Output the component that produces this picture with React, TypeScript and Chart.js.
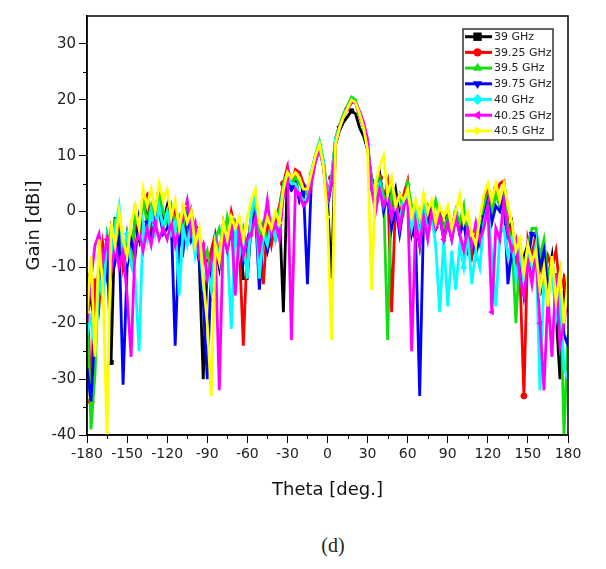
import React, { useEffect, useRef } from "react";
import { Chart, registerables } from "chart.js";

Chart.register(...registerables);

const THETA = [
  -180, -177, -174, -171, -168, -165, -162, -159, -156, -153,
  -150, -147, -144, -141, -138, -135, -132, -129, -126, -123,
  -120, -117, -114, -111, -108, -105, -102, -99, -96, -93,
  -90, -87, -84, -81, -78, -75, -72, -69, -66, -63,
  -60, -57, -54, -51, -48, -45, -42, -39, -36, -33,
  -30, -27, -24, -21, -18, -15, -12, -9, -6, -3,
  0, 3, 6, 9, 12, 15, 18, 21, 24, 27,
  30, 33, 36, 39, 42, 45, 48, 51, 54, 57,
  60, 63, 66, 69, 72, 75, 78, 81, 84, 87,
  90, 93, 96, 99, 102, 105, 108, 111, 114, 117,
  120, 123, 126, 129, 132, 135, 138, 141, 144, 147,
  150, 153, 156, 159, 162, 165, 168, 171, 174, 177,
  180,
];

const GAIN_39_00 = [
  -11, -16, -20, -9, -14, -5, -27, -1, -6, -9,
  -4, -8, -2, -5, 3, -1, -4, 1, 3, -2,
  1, -4, -2, -6, -1, 0, -5, -3, -9, -30,
  -9, -14, -6, -10, -3, -6, -1, -4, -3, -12,
  -12, -2, 1, -6, -3, -7, -4, -2, 0, -18,
  7, 5, 6, 2, 4, 3, 7, 10, 12, 8,
  2, -12, 12, 14.5, 16, 17, 18, 17.5, 15, 13.5,
  11, 6, 4, 7, 2, 5, 1, 4, -1, 2,
  4, -4, -1, -6, 2, -3, 1, -2, 0, -4,
  -1, -3, 0, -4, -1, -5, -8, -4, -3, 1,
  3, 0, 4, 1, 4, -4, -2, -9, -12, -8,
  -6, -11, -5, -15, -9, -12, -8, -18, -30, -13,
  -17,
];

const GAIN_39_25 = [
  -13, -34, -12, -17, -6, -11, -3, -6, -2, -10,
  -6, -9, -2, -4, 2, 3, -3, 0, 2, -3,
  0, -3, 1, -4, -1, -5, 0, -4, -8, -6,
  -11, -7, -4, -8, -2, -5, 0, -3, -6, -24,
  -6, -1, 2, -5, -13, -2, -6, -2, 1, 5,
  8, 5, 7.5, 7, 5, 4, 6, 10, 12, 9,
  3, 6, 13, 15.5, 17, 18.5, 19.5, 19.5, 17, 15,
  12, 5, 3, 6, 2, 5, -18, 2, -2, 3,
  5.5, -3, 0, -4, 1, -3, 1, -2, 0, -3,
  -1, -3, 0, -3, -1, -5, -8, -4, -6, 2,
  4, 1, 3, 5, 5.5, -2, -4, -8, -11, -33,
  -5, -8, -4, -9, -13, -8, -10, -7, -14, -12,
  -18,
];

const GAIN_39_50 = [
  -16, -39, -29, -9, -13, -4, -7, -2, -5, -8,
  -5, -9, -1, -3, 2, -2, 1, -2, 3, 0,
  -2, 1, -3, -1, -5, 1, -3, -6, -4, -9,
  -7, -11, -5, -3, -6, -1, -4, -2, -6, -3,
  -7, -1, 2, -4, -2, -6, -3, -1, 0, 5,
  7, 5, 6, 5, 4, 3, 7, 10, 12.5, 9,
  2, 5, 13, 15.5, 17.5, 19, 20.5, 20, 17.5, 15,
  12, 5, 3, 6, 3, -23, 4, 1, 3, 0,
  5, 1, -3, 0, -2, 1, -1, 2, -1, -3,
  -1, -4, 0, -2, 1, -6, -4, -7, -3, 1,
  3, 0, 3, 1, 4, -3, -5, -20, -7, -11,
  -6, -3, -3, -8, -5, -12, -9, -15, -11, -40,
  -22,
];

const GAIN_39_75 = [
  -28, -34, -21, -13, -8, -12, -4, -9, -5, -31,
  -10, -5, -8, -1, -4, -2, -5, -1, 0, -4,
  -3, -1, -24, -4, -7, -1, -5, -3, -9, -16,
  -30, -10, -5, -9, -4, -7, -3, -6, -4, -9,
  -5, -3, 0, -14, -4, -7, -3, -5, -2, 3,
  6, 4, 5, 2, 4, -13, 6, 9, 11.5, 8,
  1, 5, 12.5, 15, 17, 18.5, 20, 19.5, 17.5, 15,
  12, 4, 2, 5, 0, 3, -3, 1, -4, 1,
  3, -3, -5, -33, 0, -4, 1, -3, -1, -5,
  -2, -5, -1, -4, -2, -7, -5, -8, -4, -1,
  2, -2, 1, 0, 3, -13, -7, -11, -9, -15,
  -9, -4, -4.5, -10, -7, -14, -10, -17, -13, -22,
  -24,
];

const GAIN_40_00 = [
  -22, -19, -25, -12, -16, -5, -9, -3, 1, -7,
  -4, -9, -12, -25, -2, -5, 0, -4, 1, -3,
  0, -4, -2, -15, -3, -6, -2, -8, -5, -13,
  -10, -14, -5, -8, -3, -6, -21, -3, -8, -5,
  -12, 0, 3, -12, -4, -6, -2, -5, -1, 4,
  6, 5, 5, 3, 2, 2.5, 6, 9.5, 12, 9,
  2, 6, 13, 15, 17, 18.5, 20, 19.5, 17.5, 15,
  12, 5, 3, 5, 1, 3, -1, 2, -2, 2,
  3, -3, 0, -5, 1, -4, -1, -6, -18, -5,
  -17, -7, -14, -6, -10, -4, -13, -7, -10, -2,
  1, -8, -17, -4, -3, -8, -5, -12, -7, -13,
  -7, -10, -6, -32, -12, -16, -10, -19, -14, -28,
  -30,
];

const GAIN_40_25 = [
  -20, -12, -6, -4, -9, -5, -11, -6, -10, -7,
  -15, -26, -6, -4, -7, -3, -6, -2, -5, -3,
  -5, -2, -6, -3, -1, 2, -4, -2, -8, -6,
  -12, -9, -6, -32, -4, -7, -2, -15, -3, -8,
  -5, -4, -1, -7, -3, 2, -4, -2, -5, 3,
  7, -23, 4, 3, 1, 2, 5, 9, 11, 8,
  2, 5, 12, 15, 17, 18.5, 19.5, 19.5, 18, 16,
  13, 4, 0, 4, 1, 3, -1, 2, -3, 1,
  2, -25, -2, -6, -1, -5, 0, -3, -1, -5,
  -2, -5, -1, -4, -7, -3, -6, -2, -5, -3,
  1, -18, -3, -5, 2, -4, -7, -5, -12, -15,
  -9, -13, -7, -20, -32, -15, -26, -11, -24, -20,
  -15,
];

const GAIN_40_50 = [
  -18, -8, -26, -5, -14, -40, -2, -6, 0, -5,
  -8, -2, 1, -3, 4, 1, 4, 0, 5, 2,
  4, -1, 2, -3, 1, -2, 0, -6, -3, -12,
  -20, -33, -6, -9, -2, -5, -1, -3, -1, -5,
  -1, 2, 4, -2, -4, -1, -3, 0, -2, 4,
  7, 6, 7, 6, 4, 4, 7, 10, 12, 8,
  -1, -23, 12, 15, 17, 18.5, 20, 19.5, 17.5, 15,
  11, -14, 5, 8, 10, 3, 6, 1, 3, 2,
  4, -1, 2, -1, 3, 0, 2, -2, 1, -1,
  1, -3, 0, 3, -2, 0, -4, -6, -1, 3,
  5, 2, 5, 2, 5, 1, -2, -7, -5, -11,
  -6, -9, -7, -14, -10, -17, -8, -16, -11, -20,
  -12,
];

const SERIES = [GAIN_39_00, GAIN_39_25, GAIN_39_50, GAIN_39_75, GAIN_40_00, GAIN_40_25, GAIN_40_50];
const SERIES_LABELS = ["39 GHz", "39.25 GHz", "39.5 GHz", "39.75 GHz", "40 GHz", "40.25 GHz", "40.5 GHz"];
const SERIES_COLORS = ["#000000", "#FF0000", "#10E010", "#0000FF", "#00FFFF", "#FF00FF", "#FFFF00"];
const SERIES_STYLES = ["rect", "circle", "triangle", "triangle", "rectRot", "triangle", "triangle"];
const SERIES_ROT = [0, 0, 0, 180, 0, 270, 90];

const X_MIN = -180;
const X_MAX = 180;
const X_STEP = 30;
const Y_MIN = -40;
const Y_MAX = 35;
const Y_STEP = 10;

const FONT = "'DejaVu Sans', Arial, sans-serif";

function drawMarker(ctx: CanvasRenderingContext2D, style: string, rot: number, x: number, y: number, r: number) {
  ctx.beginPath();
  if (style === "rect") {
    ctx.rect(x - r, y - r, 2 * r, 2 * r);
  } else if (style === "circle") {
    ctx.arc(x, y, r, 0, Math.PI * 2);
  } else if (style === "rectRot") {
    ctx.moveTo(x, y - r * 1.3);
    ctx.lineTo(x + r * 1.3, y);
    ctx.lineTo(x, y + r * 1.3);
    ctx.lineTo(x - r * 1.3, y);
    ctx.closePath();
  } else {
    const a0 = ((rot - 90) * Math.PI) / 180;
    for (let k = 0; k < 3; k++) {
      const a = a0 + (k * 2 * Math.PI) / 3;
      const px = x + Math.cos(a) * r * 1.25;
      const py = y + Math.sin(a) * r * 1.25;
      if (k === 0) ctx.moveTo(px, py);
      else ctx.lineTo(px, py);
    }
    ctx.closePath();
  }
  ctx.fill();
}

const framePlugin = {
  id: "frameAndTicks",
  afterDraw(chart: any) {
    const { ctx, chartArea } = chart;
    const xs = chart.scales.x;
    const ys = chart.scales.y;
    ctx.save();
    ctx.strokeStyle = "#000";
    ctx.lineWidth = 1.5;
    ctx.strokeRect(chartArea.left, chartArea.top, chartArea.right - chartArea.left, chartArea.bottom - chartArea.top);
    ctx.lineWidth = 1;
    ctx.beginPath();
    for (let v = X_MIN + X_STEP / 2; v < X_MAX; v += X_STEP) {
      const px = Math.round(xs.getPixelForValue(v)) + 0.5;
      ctx.moveTo(px, chartArea.bottom);
      ctx.lineTo(px, chartArea.bottom + 4);
    }
    for (let v = Y_MIN + Y_STEP / 2; v < Y_MAX - 1; v += Y_STEP) {
      const py = Math.round(ys.getPixelForValue(v)) + 0.5;
      ctx.moveTo(chartArea.left, py);
      ctx.lineTo(chartArea.left - 4, py);
    }
    ctx.stroke();
    ctx.restore();
  },
};

const legendPlugin = {
  id: "boxLegend",
  afterDraw(chart: any) {
    const { ctx, chartArea } = chart;
    const x0 = chartArea.right - 105;
    const y0 = chartArea.top + 13;
    const w = 90;
    const h = 111;
    ctx.save();
    ctx.fillStyle = "#fff";
    ctx.fillRect(x0, y0, w, h);
    ctx.strokeStyle = "#333";
    ctx.lineWidth = 1.5;
    ctx.strokeRect(x0, y0, w, h);
    chart.data.datasets.forEach((ds: any, k: number) => {
      const y = y0 + 7.7 + k * 15.7;
      ctx.strokeStyle = SERIES_COLORS[k];
      ctx.lineWidth = 3;
      ctx.beginPath();
      ctx.moveTo(x0 + 2, y);
      ctx.lineTo(x0 + 29, y);
      ctx.stroke();
      ctx.fillStyle = SERIES_COLORS[k];
      drawMarker(ctx, SERIES_STYLES[k], SERIES_ROT[k], x0 + 14.5, y, 4.2);
      ctx.fillStyle = "#222";
      ctx.font = `11px ${FONT}`;
      ctx.textBaseline = "middle";
      ctx.textAlign = "left";
      ctx.fillText(ds.label, x0 + 31, y + 0.5);
    });
    ctx.restore();
  },
};

export default function App() {
  const ref = useRef<HTMLCanvasElement>(null);

  useEffect(() => {
    const canvas = ref.current;
    if (!canvas) return;
    const datasets = SERIES.map((values, k) => ({
      label: SERIES_LABELS[k],
      data: THETA.map((t, i) => ({ x: t, y: values[i] })),
      borderColor: SERIES_COLORS[k],
      backgroundColor: SERIES_COLORS[k],
      borderWidth: 2.8,
      pointStyle: SERIES_STYLES[k],
      pointRotation: SERIES_ROT[k],
      pointRadius: (c: any) => ((c.dataIndex + k * 5) % 12 === 6 ? 3 : 0),
      pointHoverRadius: 0,
      pointBackgroundColor: SERIES_COLORS[k],
      pointBorderColor: SERIES_COLORS[k],
      pointBorderWidth: 1,
      tension: 0,
      order: 6 - k,
    }));

    const chart = new Chart(canvas, {
      type: "line",
      data: { datasets } as any,
      options: {
        animation: false,
        responsive: false,
        maintainAspectRatio: false,
        events: [],
        layout: { padding: { top: 16, right: 38, left: 0, bottom: 0 } },
        plugins: { legend: { display: false }, tooltip: { enabled: false } },
        scales: {
          x: {
            type: "linear",
            min: X_MIN,
            max: X_MAX,
            ticks: {
              stepSize: X_STEP,
              maxTicksLimit: 20,
              autoSkip: false,
              maxRotation: 0,
              padding: 3,
              color: "#222",
              font: { family: FONT, size: 14 },
            },
            grid: { drawOnChartArea: false, drawTicks: true, tickLength: 8, color: "#000", lineWidth: 1 },
            border: { display: true, color: "#000", width: 1.5 },
            title: {
              display: true,
              text: "Theta [deg.]",
              color: "#111",
              font: { family: FONT, size: 18 },
              padding: { top: 0, bottom: 19 },
            },
            afterFit: (s: any) => {
              s.height = 85;
            },
          },
          y: {
            type: "linear",
            min: Y_MIN,
            max: Y_MAX,
            ticks: {
              stepSize: Y_STEP,
              includeBounds: false,
              padding: 3,
              color: "#222",
              font: { family: FONT, size: 15 },
            },
            grid: { drawOnChartArea: false, drawTicks: true, tickLength: 8, color: "#000", lineWidth: 1 },
            border: { display: true, color: "#000", width: 1.5 },
            title: {
              display: true,
              text: "Gain [dBi]",
              color: "#111",
              font: { family: FONT, size: 18 },
              padding: { top: 24, bottom: 0 },
            },
            afterFit: (s: any) => {
              s.width = 87;
            },
          },
        },
      } as any,
      plugins: [framePlugin, legendPlugin],
    });
    return () => chart.destroy();
  }, []);

  return (
    <div style={{ position: "absolute", left: 0, top: 0, width: 606, height: 569, background: "#fff" }}>
      <canvas ref={ref} width={606} height={520} style={{ display: "block", width: 606, height: 520 }} />
      <div
        style={{
          position: "absolute",
          left: 283,
          top: 533,
          width: 100,
          textAlign: "center",
          fontFamily: "'Liberation Serif', 'Times New Roman', serif",
          fontSize: 20,
          lineHeight: "24px",
          color: "#222",
        }}
      >
        (d)
      </div>
    </div>
  );
}
